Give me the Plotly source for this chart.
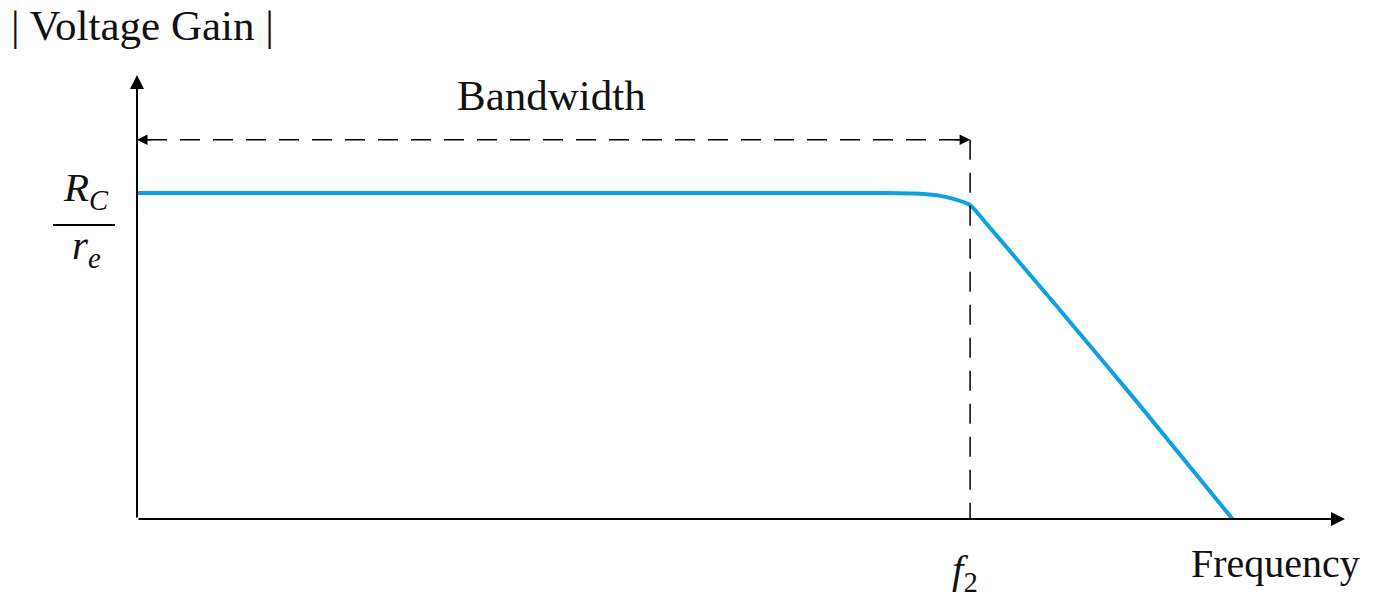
import plotly.graph_objects as go

# Frequency response (normalised: f2 = 1, midband gain Rc/re = 1)
freq = [0.0, 0.90, 0.94, 0.96, 0.98, 1.00, 1.02, 1.05, 1.10, 1.20, 1.315]
gain = [1.0, 1.0, 0.998, 0.993, 0.982, 0.963, 0.905, 0.815, 0.665, 0.36, 0.0]

f2 = 1.0
bandwidth_level = 1.163
x_max = 1.45
y_max = 1.362

BLUE = "#0DA1E3"
FONT = "Liberation Serif, Times New Roman, serif"
INK = "#111"

# plot origin sits at px (137, 519); page body adds 8px of margin
def px(x):
    return (x - 137) / 1208

def py(y):
    return (519 - y) / 444

fig = go.Figure()

fig.add_trace(go.Scatter(
    x=freq, y=gain, mode="lines",
    line=dict(color=BLUE, width=4, shape="spline", smoothing=0.6),
    hoverinfo="skip", showlegend=False, cliponaxis=False
))

shapes = [
    # bandwidth dashed line and f2 marker
    dict(type="line", xref="x", yref="y", x0=0.012, x1=f2 - 0.012, y0=bandwidth_level, y1=bandwidth_level,
         line=dict(color="black", width=1.5, dash="20px,13px")),
    dict(type="line", xref="x", yref="y", x0=f2, x1=f2, y0=bandwidth_level, y1=0,
         line=dict(color="black", width=1.5, dash="20px,13px")),
    # fraction bar of Rc/re
    dict(type="line", xref="paper", yref="paper", x0=px(53), x1=px(115), y0=py(225), y1=py(225),
         line=dict(color="black", width=2)),
]

def arrow(x, y, ax, ay, width=2):
    return dict(x=x, y=y, ax=ax, ay=ay, xref="x", yref="y", axref="x", ayref="y",
                text="", showarrow=True, arrowhead=2, arrowsize=1.4, arrowwidth=width,
                arrowcolor="black")

def label(text, x, y, xanchor="center", size=41, xref="paper"):
    return dict(text=text, xref=xref, yref="paper", x=x, y=y, xanchor=xanchor, yanchor="middle",
                showarrow=False, font=dict(family=FONT, size=size, color=INK))

annotations = [
    arrow(x_max, 0, 0, 0),
    arrow(0, y_max, 0, 0),
    arrow(0, bandwidth_level, 0.02, bandwidth_level, 1.5),
    arrow(f2, bandwidth_level, f2 - 0.02, bandwidth_level, 1.5),
    label("| Voltage Gain |", px(9), py(26), xanchor="left", size=43),
    label("Bandwidth", px(551), py(95), size=43),
    label("Frequency", px(1362), py(563), xanchor="right", size=40),
    label("<i>R</i><sub><i>C</i></sub>", px(86), py(190)),
    label("<i>r</i><sub><i>e</i></sub>", px(86), py(248)),
    label("<i>f</i><sub>2</sub>", f2 - 0.006, py(572), xref="x"),
]

fig.update_layout(
    width=1381, height=599,
    margin=dict(l=129, r=44, t=67, b=88),
    paper_bgcolor="white", plot_bgcolor="white",
    xaxis=dict(range=[0, x_max], visible=False, fixedrange=True),
    yaxis=dict(range=[0, y_max], visible=False, fixedrange=True),
    shapes=shapes,
    annotations=annotations,
    showlegend=False,
)

fig.write_html("out.html")
